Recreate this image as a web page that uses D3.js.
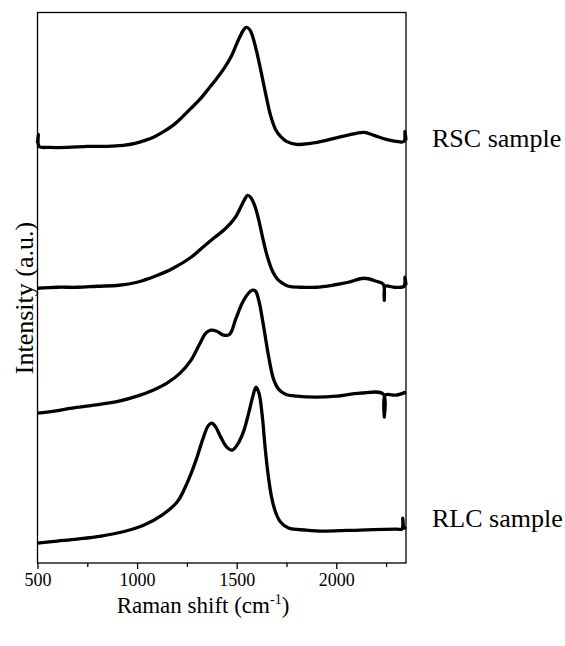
<!DOCTYPE html>
<html lang="en">
<head>
  <meta charset="UTF-8">
  <title>Raman spectra</title>
  <script src="https://d3js.org/d3.v7.min.js"></script>
  <style>
    body { margin: 0; background: #fff; }
    svg text { font-family: "Liberation Serif", "Times New Roman", serif; fill: #000; }
    .spectrum { fill: none; stroke: #000; stroke-width: 3.3; stroke-linejoin: round; }
    .frame { fill: none; stroke: #000; stroke-width: 1.3; }
    .axis path { display: none; }
    .axis line { stroke: #000; stroke-width: 1.3; }
  </style>
</head>
<body>
<div id="chart"></div>
<script>
// Raman shift (cm-1) and intensity (a.u., curves already offset)
var rscShift = [500, 504, 508, 560, 650, 750, 850, 930, 990, 1040, 1090, 1135, 1180, 1225, 1270, 1315, 1360, 1400, 1440, 1475, 1505, 1530, 1547, 1565, 1580, 1600, 1620, 1645, 1670, 1695, 1720, 1750, 1800, 1870, 1950, 2030, 2100, 2140, 2190, 2250, 2300, 2340, 2345, 2350];
var rscIntensity = [420, 429, 417, 416, 416, 417, 417, 418, 420, 423, 427, 432, 438, 446, 455, 464, 475, 485, 496, 508, 522, 532, 536, 534, 527, 512, 494, 470, 448, 434, 427, 422, 419, 420, 423, 427, 430, 431, 428, 424, 422, 422, 432, 423];

var midAShift = [500, 600, 700, 800, 909, 1000, 1090, 1181, 1271, 1330, 1390, 1440, 1490, 1520, 1540, 1555, 1570, 1590, 1610, 1630, 1655, 1680, 1705, 1730, 1760, 1820, 1900, 1980, 2060, 2140, 2200, 2236, 2241, 2246, 2290, 2340, 2345, 2350];
var midAIntensity = [275, 276, 276, 277, 278, 281, 287, 295, 306, 316, 326, 334, 345, 356, 364, 368, 366, 358, 344, 326, 306, 292, 284, 280, 277, 276, 276, 278, 281, 285, 282, 279, 263, 277, 276, 277, 286, 278];

var midBShift = [500, 583, 673, 784, 909, 1000, 1080, 1150, 1216, 1271, 1316, 1345, 1370, 1400, 1435, 1465, 1495, 1525, 1555, 1580, 1595, 1612, 1635, 1660, 1685, 1710, 1745, 1800, 1900, 2000, 2120, 2236, 2241, 2246, 2301, 2350];
var midBIntensity = [150, 152, 155, 158, 162, 167, 173, 180, 190, 203, 220, 230, 233, 232, 228, 229, 244, 259, 269, 273, 272, 262, 237, 207, 184, 174, 169, 167, 166, 167, 170, 169, 146, 168, 168, 171];

var rlcShift = [500, 600, 700, 819, 944, 1035, 1125, 1201, 1251, 1296, 1330, 1356, 1375, 1395, 1420, 1450, 1477, 1505, 1535, 1560, 1580, 1597, 1612, 1628, 1643, 1658, 1675, 1695, 1720, 1760, 1849, 1939, 2120, 2301, 2330, 2334, 2340, 2350];
var rlcIntensity = [20, 22, 24, 27, 32, 38, 48, 61, 80, 103, 124, 137, 140, 136, 126, 116, 113, 119, 132, 150, 166, 176, 170, 148, 115, 88, 66, 51, 41, 35, 33, 32, 33, 34, 34, 45, 35, 36];

var majorTicks = [500, 1000, 1500, 2000];
var minorTicks = [750, 1250, 1750, 2250];

var sampleLabels = ["RSC sample", "RLC sample"];

var w = 565, h = 646;
var margin = {top: 12.5, right: 159, bottom: 83, left: 37.5};
var serif = "'Liberation Serif', 'Times New Roman', serif";

var svg = d3.select("#chart").append("svg")
  .attr("width", w)
  .attr("height", h)
  .attr("font-family", serif);

var x = d3.scaleLinear()
  .domain([500, 2350])
  .range([margin.left, w - margin.right]);

var y = d3.scaleLinear()
  .domain([0, 551])
  .range([h - margin.bottom, margin.top]);

var line = d3.line()
  .x(d => x(d[0]))
  .y(d => y(d[1]))
  .curve(d3.curveCatmullRom.alpha(0.5));

var series = [
  [rscShift, rscIntensity],
  [midAShift, midAIntensity],
  [midBShift, midBIntensity],
  [rlcShift, rlcIntensity]
];

svg.selectAll(".spectrum")
  .data(series)
  .enter()
  .append("path")
  .attr("class", "spectrum")
  .attr("d", s => line(d3.zip(s[0], s[1])));

svg.append("rect")
  .attr("class", "frame")
  .attr("x", margin.left)
  .attr("y", margin.top)
  .attr("width", w - margin.right - margin.left)
  .attr("height", h - margin.bottom - margin.top);

var xAxis = svg.append("g")
  .attr("class", "axis")
  .attr("transform", "translate(0," + (h - margin.bottom) + ")")
  .call(d3.axisBottom(x).tickValues(majorTicks).tickSize(6).tickPadding(4).tickFormat(d3.format("d")));

xAxis.attr("font-family", serif).attr("font-size", 18);

svg.append("g")
  .attr("class", "axis")
  .attr("transform", "translate(0," + (h - margin.bottom) + ")")
  .call(d3.axisBottom(x).tickValues(minorTicks).tickSize(4).tickFormat(""));

// axis titles
var title = svg.append("text")
  .attr("x", 203)
  .attr("y", 613)
  .attr("text-anchor", "middle")
  .attr("font-family", serif)
  .attr("font-size", 23);
title.append("tspan").text("Raman shift (cm");
title.append("tspan").attr("dy", -9).attr("font-size", 14).text("-1");
title.append("tspan").attr("dy", 9).text(")");

svg.append("text")
  .attr("transform", "translate(33,298) rotate(-90)")
  .attr("text-anchor", "middle")
  .attr("font-family", serif)
  .attr("font-size", 26)
  .text("Intensity (a.u.)");

// sample labels beside first and last spectra
svg.selectAll(".sample")
  .data(sampleLabels)
  .enter()
  .append("text")
  .attr("class", "sample")
  .attr("x", 432)
  .attr("y", (d, i) => i === 0 ? 147 : 527)
  .attr("font-family", serif)
  .attr("font-size", 26)
  .text(d => d);
</script>
</body>
</html>
